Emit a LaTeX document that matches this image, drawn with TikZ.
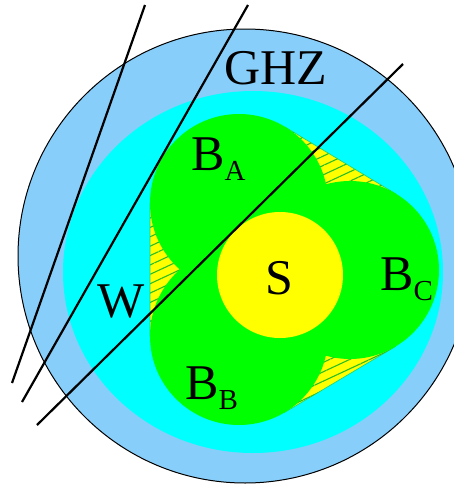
\documentclass[tikz,border=0pt]{standalone}
\usepackage{fontspec}
\setmainfont{Liberation Serif}
\usepackage{xcolor}
\usetikzlibrary{calc, patterns.meta}

\definecolor{ghzblue}{RGB}{135,206,250}
\definecolor{wcyan}{RGB}{0,255,255}
\definecolor{bgreen}{RGB}{0,255,0}
\definecolor{syellow}{RGB}{255,255,0}
\definecolor{hatchgreen}{RGB}{40,190,40}
\newcommand{\subl}[1]{\raisebox{-10pt}{\fontsize{29}{30}\selectfont #1}}

\begin{document}
\begin{tikzpicture}[
    x=1pt, y=-1pt,
    lbl/.style={inner sep=0pt, font=\fontsize{50}{60}\selectfont},
    cut/.style={line width=2.2pt, black},
    gap/.style={fill=syellow, draw=hatchgreen!60!wcyan, line width=0.7pt},
    hatch/.style={pattern={Lines[angle=25, distance=8.5pt, line width=1.1pt]}, pattern color=hatchgreen}
]
\useasboundingbox (0,0) rectangle (454,485);

% centres of the three B discs
\coordinate (ca) at (239,203);
\coordinate (cb) at (239,336);
\coordinate (cc) at (350,270);

% outer regions
\fill[ghzblue, draw=black, line width=1pt] (245,256) circle[radius=227pt];
\fill[wcyan] (253,272) ellipse[x radius=190pt, y radius=181pt];

% hatched gaps (hull of the discs)
\path[gap] (150,203) -- (150,336) -- (284.5,412.5) -- (395.5,346.5) -- (396,194) -- (285,127) -- cycle;
\fill[hatch] (150,203) -- (150,336) -- (284.5,412.5) -- (395.5,346.5) -- (396,194) -- (285,127) -- cycle;

% B discs
\fill[bgreen] (ca) circle[radius=89pt] (cb) circle[radius=89pt] (cc) circle[radius=89pt];
\fill[bgreen] (ca) -- (cb) -- (cc) -- cycle;

% S disc
\fill[syellow] (280,275) circle[radius=63pt];

% cutting lines
\coordinate (l1a) at (145,5);
\coordinate (l1b) at (12,383);
\coordinate (l2a) at (248,5);
\coordinate (l2b) at (22,402);
\coordinate (l3a) at (403,64);
\coordinate (l3b) at (37,425);
\draw[cut] (l1a) -- (l1b);
\draw[cut] (l2a) -- (l2b);
\draw[cut] (l3a) -- (l3b);

% labels
\node[lbl, anchor=base] (ghz) at (275.5,84.5) {GHZ};
\node[lbl, anchor=base west] (ba) at (191,170) {B\subl{A}};
\node[lbl, anchor=base] (w) at (121,317) {W};
\node[lbl, anchor=base] (s) at (279,294) {S};
\node[lbl, anchor=base west] (bb) at (185,399) {B\subl{B}};
\node[lbl, anchor=base west] (bc) at (380,290) {B\subl{C}};

\end{tikzpicture}
\end{document}
